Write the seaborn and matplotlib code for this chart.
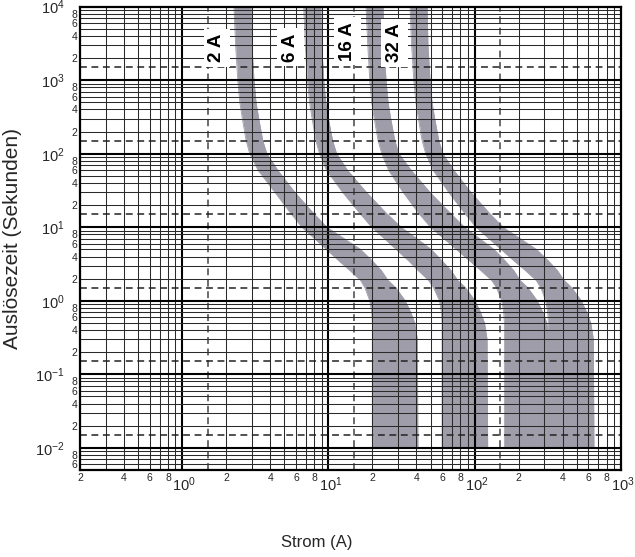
import numpy as np
import pandas as pd
import matplotlib
matplotlib.use("Agg")
import matplotlib.pyplot as plt
import matplotlib.transforms as mtransforms
import seaborn as sns
from matplotlib.ticker import FixedLocator, FuncFormatter, LogFormatterSciNotation

# ---- data (current in A, time in s) ----
times = [1e4, 3e3, 1e3, 500, 300, 150, 100, 60, 30, 16, 10, 6.5, 5, 3.5, 2.6, 1.9, 1.5, 1.0, 0.7, 0.5, 0.3, 0.01]

band_2A_low = [2.26, 2.32, 2.4, 2.48, 2.58, 2.74, 2.9, 3.3, 4.3, 5.46, 6.6, 8.4, 9.7, 11.8, 14, 16.6, 17.8, 19.2, 19.8, 20, 20, 20]
band_2A_high = [2.96, 3.0, 3.1, 3.2, 3.34, 3.56, 3.8, 4.5, 5.9, 7.8, 9.8, 13.6, 16.6, 20, 23, 25.6, 29, 33.6, 36.6, 39, 40.6, 41]

band_6A_low = [6.78, 6.96, 7.2, 7.44, 7.74, 8.22, 8.7, 9.7, 12.5, 16.2, 19.8, 25.2, 29.1, 35.4, 41, 48.5, 52.5, 57.6, 59.4, 60, 60, 60]
band_6A_high = [8.88, 9.0, 9.3, 9.6, 10.0, 10.7, 11.4, 13.5, 18.2, 24.6, 31.5, 42.5, 50.5, 60, 69, 76.8, 87, 100.8, 109.8, 117, 121.8, 123]

band_16A_low = [18.1, 18.6, 19.2, 19.8, 20.6, 21.9, 23.2, 25.8, 32.4, 41.0, 50.0, 64.5, 75.0, 92.5, 110, 131, 141.5, 153.6, 158.4, 160, 160, 160]
band_16A_high = [23.7, 24, 24.8, 25.6, 26.7, 28.5, 30.4, 36.8, 49.5, 67.5, 85.5, 114, 136, 162, 185, 205, 232, 268.8, 292.8, 312, 324.8, 328]

band_32A_low = [36.2, 37.1, 38.4, 39.7, 41.3, 43.8, 46.4, 52.0, 66.5, 84.5, 102.5, 131, 152, 186, 222, 264, 284, 307.2, 316.8, 320, 320, 320]
band_32A_high = [47.4, 48, 49.6, 51.2, 53.4, 57, 60.8, 72, 94.4, 124.8, 156.8, 217.6, 265.6, 320, 368, 409.6, 464, 537.6, 585.6, 624, 649.6, 656]

band_labels = ["2 A", "6 A", "16 A", "32 A"]
label_current = [1.73, 5.5, 13.6, 28.5]
label_time = [2750, 2800, 3400, 3200]

x_major = [1, 10, 100, 1000]
x_minor = [0.2, 0.4, 0.6, 0.8, 2, 4, 6, 8, 20, 40, 60, 80, 200, 400, 600, 800]
y_major = [0.01, 0.1, 1, 10, 100, 1000, 10000]
y_minor = [0.006, 0.008, 0.02, 0.04, 0.06, 0.08, 0.2, 0.4, 0.6, 0.8, 2, 4, 6, 8,
           20, 40, 60, 80, 200, 400, 600, 800, 2000, 4000, 6000, 8000]

bands = [
    ("2 A", band_2A_low, band_2A_high),
    ("6 A", band_6A_low, band_6A_high),
    ("16 A", band_16A_low, band_16A_high),
    ("32 A", band_32A_low, band_32A_high),
]

# ---- style ----
sns.set_theme(style="white")
plt.rcParams['font.family'] = ['Liberation Sans', 'DejaVu Sans']
plt.rcParams['mathtext.fontset'] = 'custom'
plt.rcParams['mathtext.rm'] = 'Liberation Sans'
plt.rcParams['mathtext.it'] = 'Liberation Sans'

band_color = '#a09daa'
grid_color = '#2a2a2a'

fig = plt.figure(figsize=(6.35, 5.57), dpi=100)
ax = fig.add_axes([80 / 635, 1 - 470 / 557, (620.7 - 80) / 635, (470 - 6.7) / 557])
ax.set_xscale('log')
ax.set_yscale('log')

# bands
rows = []
for name, lo, hi in bands:
    ax.fill_betweenx(times, lo, hi, color=band_color, lw=0, zorder=1)
    for c, t in zip(lo, times):
        rows.append({"band": name, "edge": name + "-lo", "current": c, "time": t})
    for c, t in zip(hi, times):
        rows.append({"band": name, "edge": name + "-hi", "current": c, "time": t})
df = pd.DataFrame(rows)
sns.lineplot(data=df, x="current", y="time", units="edge", estimator=None, sort=False,
             color=band_color, lw=0.6, ax=ax, legend=False, zorder=1)
ax.set_xlabel("")
ax.set_ylabel("")

ax.set_xlim(0.2, 1000)
ax.set_ylim(0.005, 1e4)

# grid
for d in [0.1, 1, 10, 100]:
    for m in range(1, 10):
        v = m * d
        if 0.2 <= v <= 1000:
            if m == 1:
                ax.axvline(v, color='black', lw=1.5, zorder=2)
            else:
                ax.axvline(v, color=grid_color, lw=0.75, zorder=2)
    if 0.2 <= 1.5 * d <= 1000:
        ax.axvline(1.5 * d, color='#444444', lw=1.1, ls=(0, (4.5, 3)), zorder=2)
for d in [0.001, 0.01, 0.1, 1, 10, 100, 1000]:
    for m in range(1, 10):
        v = m * d
        if 0.005 <= v <= 1e4:
            if m == 1:
                ax.axhline(v, color='black', lw=1.5, zorder=2)
            else:
                ax.axhline(v, color=grid_color, lw=0.75, zorder=2)
    if 0.005 <= 1.5 * d <= 1e4:
        ax.axhline(1.5 * d, color='#222222', lw=1.1, ls=(0, (4.5, 3)), zorder=2)

# band labels
for txt, cx, ty in zip(band_labels, label_current, label_time):
    ax.text(cx, ty, txt, rotation=90, ha='center', va='center', fontsize=13.5,
            fontweight='bold', color='black', zorder=5,
            bbox=dict(facecolor='white', edgecolor='none', pad=3.5))

# ticks
minor_fmt = FuncFormatter(lambda v, p: "%d" % int(round(v / 10 ** np.floor(np.log10(v) + 1e-9))))
ax.xaxis.set_major_locator(FixedLocator(x_major))
ax.xaxis.set_minor_locator(FixedLocator(x_minor))
ax.yaxis.set_major_locator(FixedLocator(y_major))
ax.yaxis.set_minor_locator(FixedLocator(y_minor))
ax.xaxis.set_major_formatter(LogFormatterSciNotation())
ax.yaxis.set_major_formatter(LogFormatterSciNotation())
ax.xaxis.set_minor_formatter(minor_fmt)
ax.yaxis.set_minor_formatter(minor_fmt)
ax.tick_params(which='major', direction='out', length=8, width=1.8, color='black',
               labelsize=10.5, pad=2)
ax.tick_params(which='minor', length=0, labelsize=7.5, pad=2)
ax.tick_params(axis='y', which='major', pad=3)
ax.tick_params(axis='x', which='major', pad=-4)

offset = mtransforms.ScaledTranslation(2 / 100, 0, fig.dpi_scale_trans)
for lbl in ax.xaxis.get_majorticklabels():
    lbl.set_transform(lbl.get_transform() + offset)

for s in ax.spines.values():
    s.set_visible(True)
    s.set_color('black')
    s.set_linewidth(1.6)
    s.set_zorder(6)

fig.text(317 / 635, 1 - 543 / 557, "Strom (A)", ha='center', va='center', fontsize=12)
fig.text(13 / 635, 1 - 238 / 557, "Auslösezeit (Sekunden)", ha='center', va='center',
         rotation=90, fontsize=15)

fig.savefig("out.png", dpi=100)
